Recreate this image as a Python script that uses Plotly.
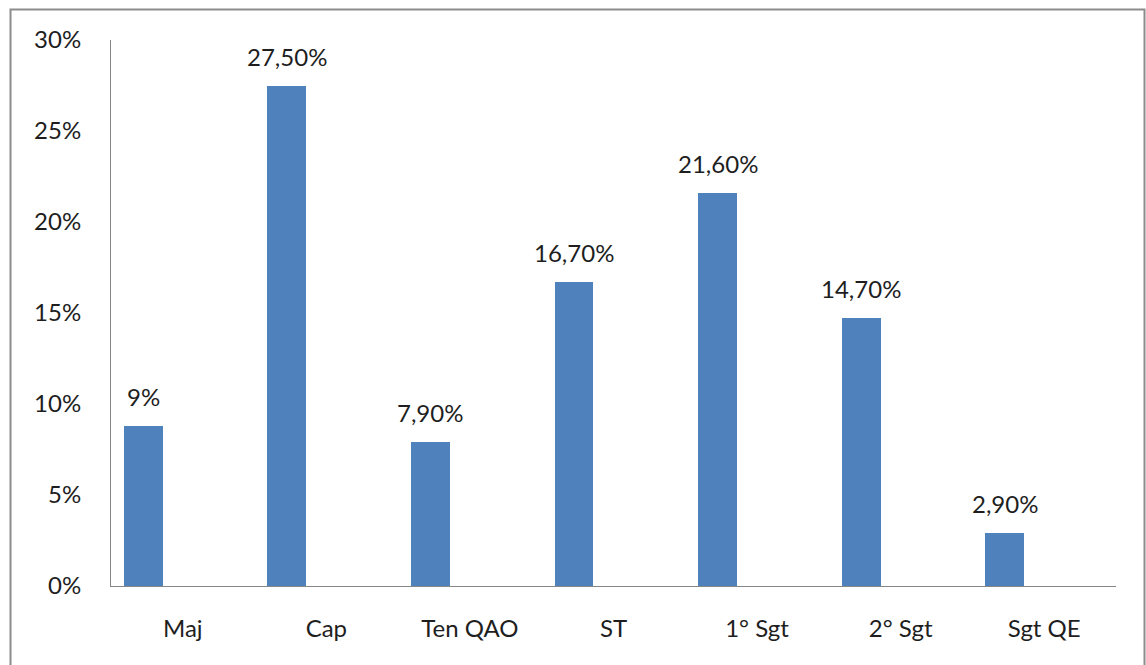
import plotly.graph_objects as go

categories = ["Maj", "Cap", "Ten QAO", "ST", "1° Sgt", "2° Sgt", "Sgt QE"]
values = [8.8, 27.5, 7.9, 16.7, 21.6, 14.7, 2.9]
value_labels = ["9%", "27,50%", "7,90%", "16,70%", "21,60%", "14,70%", "2,90%"]
y_ticks = [0, 5, 10, 15, 20, 25, 30]
y_tick_labels = ["0%", "5%", "10%", "15%", "20%", "25%", "30%"]

FONT = "Lato"
TXT = "#1E1E1E"
FS = 24
BAR_OFFSET = -0.41
BAR_WIDTH = 0.27

x_idx = list(range(len(categories)))

fig = go.Figure()
fig.add_trace(go.Bar(
    x=x_idx, y=values, offset=BAR_OFFSET, width=BAR_WIDTH,
    marker=dict(color="#4F81BD", line=dict(width=0)),
    hoverinfo="skip", showlegend=False,
))

for i, (v, lab) in enumerate(zip(values, value_labels)):
    fig.add_annotation(
        x=i + BAR_OFFSET + BAR_WIDTH / 2, y=v, text=lab, showarrow=False,
        yanchor="bottom", yshift=13, font=dict(family=FONT, size=FS, color=TXT),
    )

L, R, T, B = 111, 30, 40, 79
W, H = 1146, 665
pw, ph = W - L - R, H - T - B

def px_x(p):
    return (p - L) / pw

def px_y(p):
    return (H - B - p) / ph

fig.add_shape(
    type="rect", xref="paper", yref="paper",
    x0=px_x(10.5), x1=px_x(1144.5), y0=px_y(680), y1=px_y(9.5),
    line=dict(color="#8C8C8C", width=2), fillcolor="rgba(0,0,0,0)", layer="below",
)

fig.update_layout(
    width=W, height=H,
    margin=dict(l=L, r=R, t=T, b=B),
    paper_bgcolor="white", plot_bgcolor="white",
    font=dict(family=FONT, size=FS, color=TXT),
    xaxis=dict(
        range=[-0.5, len(categories) - 0.5],
        tickvals=x_idx, ticktext=categories,
        showline=True, linecolor="#868686", linewidth=1,
        showgrid=False, zeroline=False, ticks="",
        ticklabelstandoff=21,
        tickfont=dict(family=FONT, size=FS, color=TXT),
    ),
    yaxis=dict(
        range=[0, 30],
        tickvals=y_ticks, ticktext=y_tick_labels,
        showline=True, linecolor="#868686", linewidth=1,
        showgrid=False, zeroline=False, ticks="",
        ticklabelstandoff=24,
        tickfont=dict(family=FONT, size=FS, color=TXT),
    ),
    bargap=0,
)

fig.write_html("out.html")
